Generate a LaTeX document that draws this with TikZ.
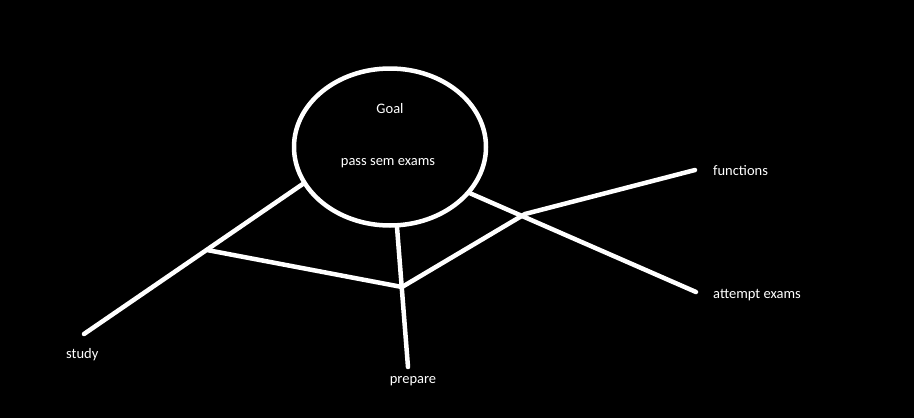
\documentclass[tikz,border=0pt]{standalone}
\usepackage{fontspec}
\setmainfont{Carlito}
\usetikzlibrary{shapes.geometric}

\tikzset{
  wline/.style={draw=white, line width=4.5pt, line cap=round},
  lbl/.style={text=white!85, font=\fontsize{14.5}{16}\selectfont, inner sep=0pt}
}

\begin{document}
\begin{tikzpicture}[x=1pt,y=-1pt]
          \fill[black] (0,0) rectangle (914,418);
          \useasboundingbox (0,0) rectangle (914,418);

          % Goal
          \node[ellipse, draw=white, line width=4.5pt, minimum width=192pt, minimum height=157pt] (goal) at (390,147) {};
          \node[lbl] (goaltitle) at (390,109) {Goal};
          \node[lbl] (goaltext) at (388,163) {pass sem exams};

          % ends
          \coordinate (study) at (84,334);
          \coordinate (prep) at (408,367);
          \coordinate (func) at (695,170);
          \coordinate (att) at (696,292);
          \coordinate (fork) at (207,250);
          \coordinate (meet) at (402,287);
          \coordinate (cross) at (525,214);

          % lines
          \draw[wline] (goal.203) -- (study);
          \draw[wline] (goal.275) -- (prep);
          \draw[wline] (goal.330) -- (att);
          \draw[wline] (fork) -- (meet) -- (cross) -- (func);

          % labels
          \node[lbl, anchor=west] (studylbl) at (66,355) {study};
          \node[lbl] (preplbl) at (413,381) {prepare};
          \node[lbl, anchor=west] (funclbl) at (713,171) {functions};
          \node[lbl, anchor=west] (attlbl) at (713,295) {attempt exams};
        \end{tikzpicture}
\end{document}
